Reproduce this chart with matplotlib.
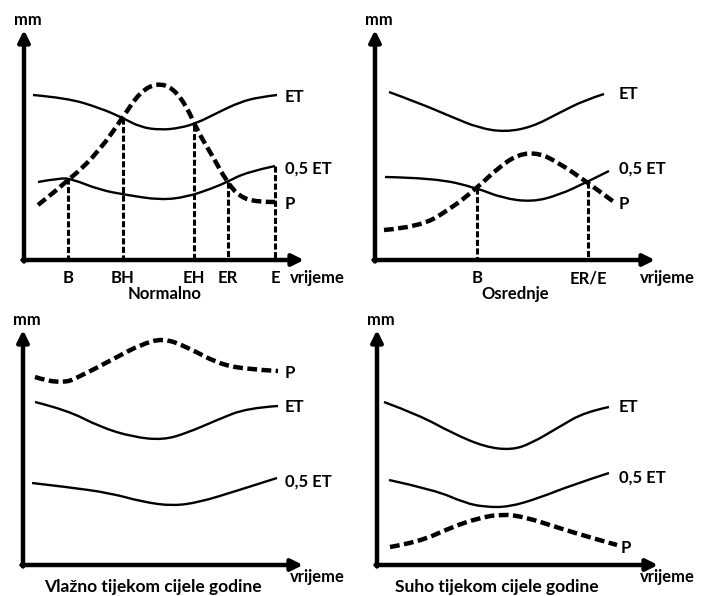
import matplotlib.pyplot as plt
from matplotlib.path import Path
from matplotlib.patches import PathPatch

plt.rcParams['font.family'] = ['Lato', 'DejaVu Sans']

# curves, in image pixels (x right, y down)
# top left: Normalno
n_et = [(33, 95), (67, 98), (100, 108), (123, 118), (140, 127), (160, 130), (180, 128),
        (197, 123), (217, 113), (240, 102), (260, 97), (277, 95)]
n_half = [(38, 182), (60, 178), (72, 179), (100, 190), (127, 195), (160, 200), (187, 197),
          (213, 188), (227, 182), (247, 172), (275, 166)]
n_p = [(38, 205), (72, 178), (100, 150), (123, 117), (140, 92), (157, 83), (173, 88),
       (187, 107), (197, 130), (213, 157), (227, 182), (240, 197), (257, 202), (275, 202)]
n_marks = ['B', 'BH', 'EH', 'ER', 'E']
n_mark_x = [68, 123, 194, 228, 275]
n_mark_top = [178, 118, 125, 182, 166]

# top right: Osrednje
o_et = [(389, 92), (419, 103), (452, 117), (479, 128), (505, 132), (532, 127), (559, 113),
        (585, 100), (604, 94)]
o_half = [(385, 177), (435, 178), (477, 188), (502, 198), (532, 202), (559, 195), (587, 182),
          (609, 171)]
o_p = [(384, 230), (419, 227), (449, 210), (477, 188), (499, 167), (519, 154), (539, 153),
       (559, 163), (587, 182), (614, 202)]
o_marks = ['B', 'ER/E']
o_mark_x = [477, 588]
o_mark_top = [188, 182]

# bottom left: Vlažno tijekom cijele godine
v_p = [(35, 377), (60, 385), (83, 375), (117, 357), (140, 345), (163, 338), (187, 347),
       (217, 363), (243, 369), (278, 371)]
v_et = [(35, 402), (67, 410), (100, 427), (133, 437), (163, 440), (187, 433), (217, 420),
        (247, 408), (278, 406)]
v_half = [(32, 483), (67, 487), (110, 493), (143, 502), (173, 506), (200, 502), (233, 492),
          (277, 478)]

# bottom right: Suho tijekom cijele godine
s_et = [(384, 402), (419, 415), (452, 433), (485, 447), (512, 450), (532, 443), (559, 427),
        (585, 412), (609, 407)]
s_half = [(389, 480), (435, 490), (465, 503), (485, 507), (509, 507), (539, 498), (572, 485),
          (609, 473)]
s_p = [(390, 547), (419, 542), (452, 527), (479, 518), (502, 514), (525, 517), (559, 528),
       (592, 538), (617, 545)]

fig = plt.figure(figsize=(7.03, 5.96), dpi=100)
ax = fig.add_axes([0, 0, 1, 1])
ax.set_xlim(0, 703)
ax.set_ylim(596, 0)
ax.axis('off')


def curve(pts, dashed=False):
    # smooth curve: quadratic beziers through the midpoints of the read points
    verts = [pts[0]]
    codes = [Path.MOVETO]
    for i in range(1, len(pts) - 1):
        mid = ((pts[i][0] + pts[i + 1][0]) / 2, (pts[i][1] + pts[i + 1][1]) / 2)
        if i == len(pts) - 2:
            mid = pts[-1]
        verts += [pts[i], mid]
        codes += [Path.CURVE3, Path.CURVE3]
    if dashed:
        patch = PathPatch(Path(verts, codes), fill=False, lw=3.2, color='black',
                          linestyle=(0, (2.2, 1.0)), capstyle='butt')
    else:
        patch = PathPatch(Path(verts, codes), fill=False, lw=1.7, color='black')
    ax.add_patch(patch)


def frame(x0, y0, ytop, xend):
    ax.annotate('', xy=(x0, ytop), xytext=(x0, y0 + 1.5),
                arrowprops=dict(arrowstyle='-|>', lw=3.2, color='black', mutation_scale=17,
                                shrinkA=0, shrinkB=0))
    ax.annotate('', xy=(xend, y0), xytext=(x0 - 1.5, y0),
                arrowprops=dict(arrowstyle='-|>', lw=3.2, color='black', mutation_scale=17,
                                shrinkA=0, shrinkB=0))
    ax.text(x0 + 4, ytop - 10, 'mm', ha='center', va='center', fontsize=12, fontweight='bold')


def label(x, y, s):
    ax.text(x, y, s, ha='left', va='center', fontsize=12, fontweight='bold')


txt = dict(ha='center', va='center', fontsize=12, fontweight='bold')
title = dict(ha='center', va='center', fontsize=12.5, fontweight='bold')

# Normalno
frame(24, 260, 30, 304)
curve(n_et)
curve(n_half)
curve(n_p, dashed=True)
for name, x, top in zip(n_marks, n_mark_x, n_mark_top):
    ax.plot([x, x], [top, 260], color='black', lw=2.2, linestyle=(0, (2.0, 0.8)))
    ax.text(x, 278, name, **txt)
label(285, 97, 'ET')
label(285, 169, '0,5 ET')
label(285, 204, 'P')
ax.text(317, 278, 'vrijeme', **txt)
ax.text(165, 294, 'Normalno', **txt)

# Osrednje
frame(375, 260, 30, 655)
curve(o_et)
curve(o_half)
curve(o_p, dashed=True)
for name, x, top in zip(o_marks, o_mark_x, o_mark_top):
    ax.plot([x, x], [top, 260], color='black', lw=2.2, linestyle=(0, (2.0, 0.8)))
    ax.text(x, 278, name, **txt)
label(619, 94, 'ET')
label(619, 169, '0,5 ET')
label(619, 204, 'P')
ax.text(667, 278, 'vrijeme', **txt)
ax.text(515, 294, 'Osrednje', **txt)

# Vlažno
frame(23, 565, 330, 303)
curve(v_p, dashed=True)
curve(v_et)
curve(v_half)
label(285, 373, 'P')
label(285, 407, 'ET')
label(285, 482, '0,5 ET')
ax.text(317, 577, 'vrijeme', **txt)
ax.text(153, 587, 'Vlažno tijekom cijele godine', **title)

# Suho
frame(377, 565, 330, 658)
curve(s_et)
curve(s_half)
curve(s_p, dashed=True)
label(619, 407, 'ET')
label(619, 478, '0,5 ET')
label(621, 548, 'P')
ax.text(667, 577, 'vrijeme', **txt)
ax.text(497, 587, 'Suho tijekom cijele godine', **title)

fig.savefig('out.png', dpi=100)
